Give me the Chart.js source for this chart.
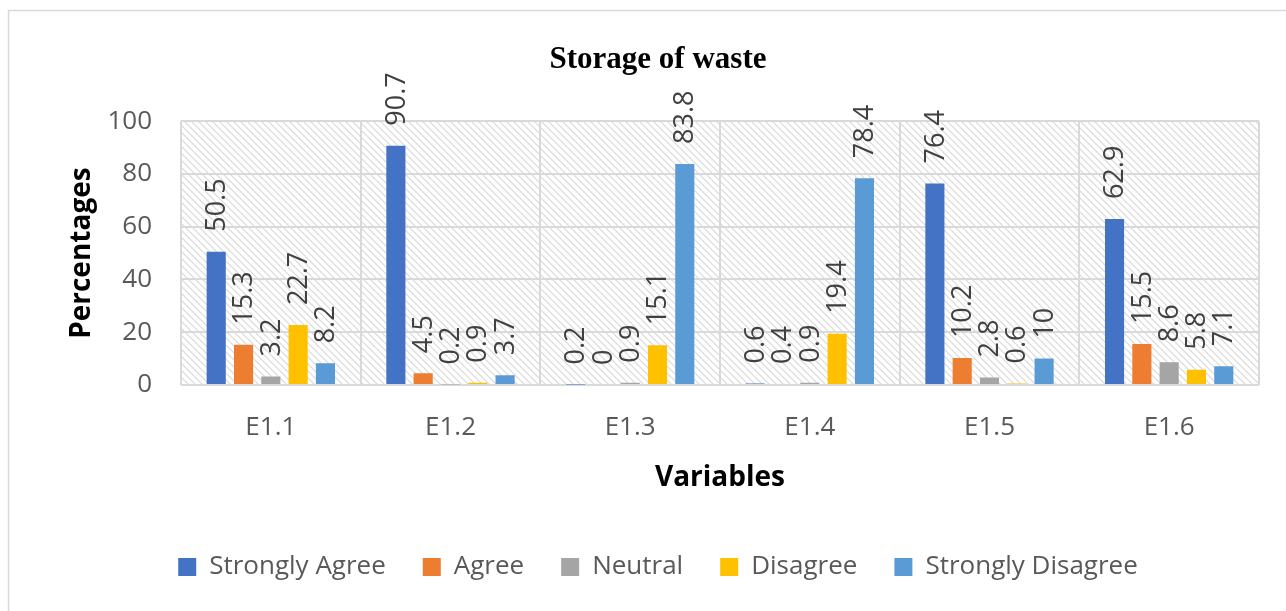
<!DOCTYPE html>
<html><head><meta charset="utf-8">
<script src="https://cdn.jsdelivr.net/npm/chart.js@4/dist/chart.umd.min.js"></script>
<style>html,body{margin:0;padding:0;background:#fff}#wrap{width:1286px;height:611px}</style>
</head><body><div id="wrap"><canvas id="c" width="1286" height="611"></canvas></div>
<script>
const categories = ['E1.1','E1.2','E1.3','E1.4','E1.5','E1.6'];
const seriesNames = ['Strongly Agree','Agree','Neutral','Disagree','Strongly Disagree'];
const stronglyAgree = [50.5, 90.7, 0.2, 0.6, 76.4, 62.9];
const agree = [15.3, 4.5, 0, 0.4, 10.2, 15.5];
const neutral = [3.2, 0.2, 0.9, 0.9, 2.8, 8.6];
const disagree = [22.7, 0.9, 15.1, 19.4, 0.6, 5.8];
const stronglyDisagree = [8.2, 3.7, 83.8, 78.4, 10, 7.1];
const seriesColors = ['#4472C4','#ED7D31','#A5A5A5','#FFC000','#5B9BD5'];
const yMin = 0, yMax = 100, yStep = 20;

const FONT = "'Open Sans', 'Noto Sans', sans-serif";

function makePattern(ctx){
  const t = document.createElement('canvas');
  t.width = 7; t.height = 7;
  const g = t.getContext('2d');
  g.fillStyle = '#ffffff'; g.fillRect(0,0,7,7);
  g.strokeStyle = '#d9d9d9'; g.lineWidth = 1.2;
  g.beginPath();
  g.moveTo(-1,-1); g.lineTo(8,8);
  g.moveTo(-1,6); g.lineTo(1,8);
  g.moveTo(6,-1); g.lineTo(8,1);
  g.stroke();
  return ctx.createPattern(t,'repeat');
}

const bgPlugin = {
  id: 'bg',
  beforeDraw(chart){
    const {ctx, chartArea:a} = chart;
    ctx.save();
    ctx.fillStyle = '#fff';
    ctx.fillRect(0,0,chart.width,chart.height);
    ctx.strokeStyle = '#d9d9d9'; ctx.lineWidth = 1.5;
    ctx.strokeRect(8.5, 10.5, chart.width+20, chart.height+20);
    ctx.fillStyle = makePattern(ctx);
    ctx.fillRect(a.left, a.top, a.right-a.left, a.bottom-a.top);
    ctx.restore();
  }
};

const labelPlugin = {
  id: 'vlabels',
  afterDatasetsDraw(chart){
    const ctx = chart.ctx;
    ctx.save();
    ctx.font = "27px " + FONT;
    ctx.fillStyle = '#404040';
    ctx.textAlign = 'left';
    ctx.textBaseline = 'middle';
    chart.data.datasets.forEach((ds, di) => {
      const meta = chart.getDatasetMeta(di);
      meta.data.forEach((el, i) => {
        ctx.save();
        ctx.translate(el.x, el.y - 20);
        ctx.rotate(-Math.PI/2);
        ctx.fillText(String(ds.data[i]), 0, 1);
        ctx.restore();
      });
    });
    ctx.restore();
  }
};

const seriesData = [stronglyAgree, agree, neutral, disagree, stronglyDisagree];

new Chart(document.getElementById('c'), {
  type: 'bar',
  data: {
    labels: categories,
    datasets: seriesNames.map((n, i) => ({
      label: n,
      data: seriesData[i],
      backgroundColor: seriesColors[i],
      borderWidth: 0,
      categoryPercentage: 0.76,
      barPercentage: 0.7
    }))
  },
  options: {
    responsive: false,
    animation: false,
    devicePixelRatio: 1,
    layout: { padding: { left: 57, right: 27, top: 0, bottom: 21 } },
    plugins: {
      title: {
        display: true,
        text: 'Storage of waste',
        font: { family: "'Liberation Serif', serif", size: 31, weight: 'bold' },
        color: '#000',
        padding: { top: 41, bottom: 43 }
      },
      legend: {
        position: 'bottom',
        labels: {
          boxWidth: 18, boxHeight: 18,
          padding: 37,
          color: '#595959',
          font: { family: FONT, size: 26 }
        }
      },
      tooltip: { enabled: false }
    },
    scales: {
      x: {
        grid: { color: '#d9d9d9', lineWidth: 2, drawTicks: false, offset: true },
        border: { display: false },
        ticks: { color: '#595959', font: { family: FONT, size: 26 }, padding: 27 },
        title: { display: true, text: 'Variables', color: '#000',
                 font: { family: FONT, size: 28, weight: 'bold' }, padding: { top: 0, bottom: 22 } },
        afterFit(s){ s.height = 132; }
      },
      y: {
        min: yMin, max: yMax,
        ticks: { stepSize: yStep, color: '#595959', font: { family: FONT, size: 26 }, padding: 29 },
        grid: { color: '#d9d9d9', lineWidth: 2, drawTicks: false },
        border: { display: false },
        title: { display: true, text: 'Percentages', color: '#000',
                 font: { family: FONT, size: 28, weight: 'bold' }, padding: { top: 8, bottom: 0 } },
        afterFit(s){ s.width = 124; }
      }
    }
  },
  plugins: [bgPlugin, labelPlugin]
});
</script>
</body></html>
